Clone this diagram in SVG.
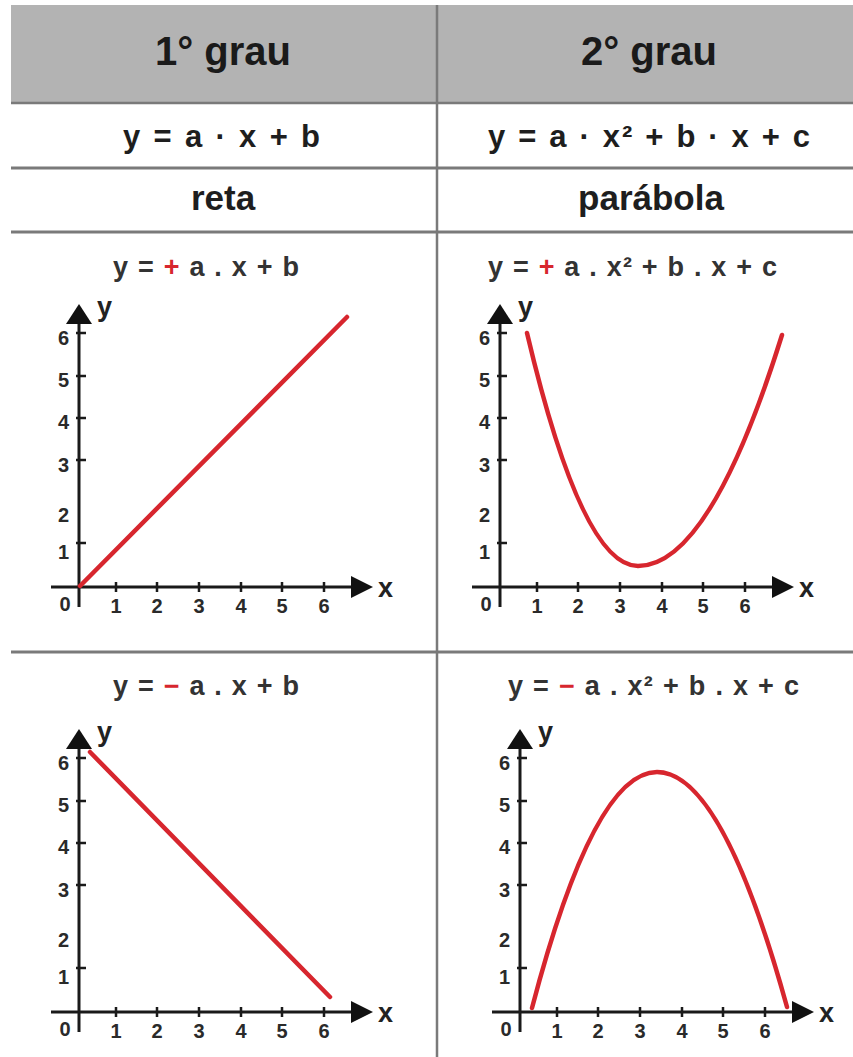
<svg xmlns="http://www.w3.org/2000/svg" width="853" height="1057" viewBox="0 0 853 1057">
<style>
  text { font-family: "Liberation Sans", Arial, sans-serif; font-weight: bold; }
  .title { font-size: 40px; fill: #1a1a1a; text-anchor: middle; }
  .form { font-size: 31px; fill: #1e1e1e; }
  .name { font-size: 35px; fill: #1e1e1e; text-anchor: middle; }
  .gform { font-size: 27px; fill: #333333; }
  .red { fill: #d7262e; }
  .tly { font-size: 20px; fill: #2a2a2a; text-anchor: end; }
  .tlx { font-size: 20px; fill: #2a2a2a; text-anchor: middle; }
  .axl { font-size: 27px; fill: #222222; }
  .ax { stroke: #1a1a1a; stroke-width: 3; fill: none; }
  .tick { stroke: #1a1a1a; stroke-width: 2.5; }
  .arr { fill: #111111; }
  .curve { stroke: #d7262e; stroke-width: 4.5; fill: none; stroke-linecap: round; }
  .grid { stroke: #7a7a7a; fill: none; }
</style>
<rect width="853" height="1057" fill="#ffffff"/>

<g id="table">
  <rect x="11" y="5" width="842" height="98" fill="#b3b3b3"/>
  <line class="grid" x1="11" y1="103" x2="853" y2="103" stroke-width="2.5" stroke="#6e6e6e"/>
  <line class="grid" x1="11" y1="168" x2="853" y2="168" stroke-width="3"/>
  <line class="grid" x1="11" y1="232" x2="853" y2="232" stroke-width="3"/>
  <line class="grid" x1="11" y1="652" x2="853" y2="652" stroke-width="3" stroke="#aaaaaa"/>
  <line class="grid" x1="437" y1="5" x2="437" y2="1057" stroke-width="2.5" stroke="#777777"/>
</g>

<g id="header-1">
  <text class="title" x="223" y="65">1° grau</text>
</g>
<g id="header-2">
  <text class="title" x="649" y="65">2° grau</text>
</g>

<g id="formula-1">
  <text class="form" x="123" y="147" textLength="197" lengthAdjust="spacing">y = a · x + b</text>
</g>
<g id="formula-2">
  <text class="form" x="488" y="147" textLength="322" lengthAdjust="spacing">y = a · x² + b · x + c</text>
</g>

<g id="name-1">
  <text class="name" x="223" y="210">reta</text>
</g>
<g id="name-2">
  <text class="name" x="651" y="210">parábola</text>
</g>

<!-- Top-left graph -->
<g id="graph-line-pos">
  <text class="gform" x="113" y="276" textLength="186" lengthAdjust="spacing">y = <tspan class="red">+</tspan> a . x + b</text>
  <g transform="translate(79,587)">
    <line class="ax" x1="0" y1="20" x2="0" y2="-266"/>
    <line class="ax" x1="-28" y1="0" x2="274" y2="0"/>
    <polygon class="arr" points="0,-283 -13,-263 13,-263"/>
    <polygon class="arr" points="294,0 272,-11 272,11"/>
    <path class="tick" d="M-3,-254H7M-3,-211H7M-3,-169H7M-3,-127H7M-3,-44H7"/>
    <path class="tick" d="M37,-5V5M78,-5V5M120,-5V5M162,-5V5M203,-5V5M245,-5V5"/>
    <text class="tly" x="-10" y="-242">6</text>
    <text class="tly" x="-10" y="-200">5</text>
    <text class="tly" x="-10" y="-158">4</text>
    <text class="tly" x="-10" y="-115">3</text>
    <text class="tly" x="-10" y="-65">2</text>
    <text class="tly" x="-10" y="-28">1</text>
    <text class="tlx" x="-14" y="24">0</text>
    <text class="tlx" x="37" y="26">1</text>
    <text class="tlx" x="78" y="26">2</text>
    <text class="tlx" x="120" y="26">3</text>
    <text class="tlx" x="162" y="26">4</text>
    <text class="tlx" x="203" y="26">5</text>
    <text class="tlx" x="245" y="26">6</text>
    <text class="axl" x="299" y="10">x</text>
    <text class="axl" x="18" y="-271">y</text>
    <line class="curve" x1="1" y1="-1" x2="268" y2="-270"/>
  </g>
</g>

<!-- Top-right graph -->
<g id="graph-parabola-pos">
  <text class="gform" x="488" y="276" textLength="289" lengthAdjust="spacing">y = <tspan class="red">+</tspan> a . x² + b . x + c</text>
  <g transform="translate(500,587)">
    <line class="ax" x1="0" y1="20" x2="0" y2="-266"/>
    <line class="ax" x1="-28" y1="0" x2="274" y2="0"/>
    <polygon class="arr" points="0,-283 -13,-263 13,-263"/>
    <polygon class="arr" points="294,0 272,-11 272,11"/>
    <path class="tick" d="M-3,-254H7M-3,-211H7M-3,-169H7M-3,-127H7M-3,-44H7"/>
    <path class="tick" d="M37,-5V5M78,-5V5M120,-5V5M162,-5V5M203,-5V5M245,-5V5"/>
    <text class="tly" x="-10" y="-242">6</text>
    <text class="tly" x="-10" y="-200">5</text>
    <text class="tly" x="-10" y="-158">4</text>
    <text class="tly" x="-10" y="-115">3</text>
    <text class="tly" x="-10" y="-65">2</text>
    <text class="tly" x="-10" y="-28">1</text>
    <text class="tlx" x="-14" y="24">0</text>
    <text class="tlx" x="37" y="26">1</text>
    <text class="tlx" x="78" y="26">2</text>
    <text class="tlx" x="120" y="26">3</text>
    <text class="tlx" x="162" y="26">4</text>
    <text class="tlx" x="203" y="26">5</text>
    <text class="tlx" x="245" y="26">6</text>
    <text class="axl" x="299" y="10">x</text>
    <text class="axl" x="18" y="-271">y</text>
    <path class="curve" d="M27,-254 Q82,-21 138,-21 Q210,-21 282,-252"/>
  </g>
</g>

<!-- Bottom-left graph -->
<g id="graph-line-neg">
  <text class="gform" x="113" y="695" textLength="186" lengthAdjust="spacing">y = <tspan class="red">−</tspan> a . x + b</text>
  <g transform="translate(79,1012)">
    <line class="ax" x1="0" y1="20" x2="0" y2="-266"/>
    <line class="ax" x1="-28" y1="0" x2="274" y2="0"/>
    <polygon class="arr" points="0,-283 -13,-263 13,-263"/>
    <polygon class="arr" points="294,0 272,-11 272,11"/>
    <path class="tick" d="M-3,-254H7M-3,-211H7M-3,-169H7M-3,-127H7M-3,-44H7"/>
    <path class="tick" d="M37,-5V5M78,-5V5M120,-5V5M162,-5V5M203,-5V5M245,-5V5"/>
    <text class="tly" x="-10" y="-242">6</text>
    <text class="tly" x="-10" y="-200">5</text>
    <text class="tly" x="-10" y="-158">4</text>
    <text class="tly" x="-10" y="-115">3</text>
    <text class="tly" x="-10" y="-65">2</text>
    <text class="tly" x="-10" y="-28">1</text>
    <text class="tlx" x="-14" y="24">0</text>
    <text class="tlx" x="37" y="26">1</text>
    <text class="tlx" x="78" y="26">2</text>
    <text class="tlx" x="120" y="26">3</text>
    <text class="tlx" x="162" y="26">4</text>
    <text class="tlx" x="203" y="26">5</text>
    <text class="tlx" x="245" y="26">6</text>
    <text class="axl" x="299" y="10">x</text>
    <text class="axl" x="18" y="-271">y</text>
    <line class="curve" x1="11" y1="-260" x2="251" y2="-15"/>
  </g>
</g>

<!-- Bottom-right graph -->
<g id="graph-parabola-neg">
  <text class="gform" x="508" y="695" textLength="291" lengthAdjust="spacing">y = <tspan class="red">−</tspan> a . x² + b . x + c</text>
  <g transform="translate(520,1012)">
    <line class="ax" x1="0" y1="20" x2="0" y2="-266"/>
    <line class="ax" x1="-28" y1="0" x2="274" y2="0"/>
    <polygon class="arr" points="0,-283 -13,-263 13,-263"/>
    <polygon class="arr" points="294,0 272,-11 272,11"/>
    <path class="tick" d="M-3,-254H7M-3,-211H7M-3,-169H7M-3,-127H7M-3,-44H7"/>
    <path class="tick" d="M37,-5V5M78,-5V5M120,-5V5M162,-5V5M203,-5V5M245,-5V5"/>
    <text class="tly" x="-10" y="-242">6</text>
    <text class="tly" x="-10" y="-200">5</text>
    <text class="tly" x="-10" y="-158">4</text>
    <text class="tly" x="-10" y="-115">3</text>
    <text class="tly" x="-10" y="-65">2</text>
    <text class="tly" x="-10" y="-28">1</text>
    <text class="tlx" x="-14" y="24">0</text>
    <text class="tlx" x="37" y="26">1</text>
    <text class="tlx" x="78" y="26">2</text>
    <text class="tlx" x="120" y="26">3</text>
    <text class="tlx" x="162" y="26">4</text>
    <text class="tlx" x="203" y="26">5</text>
    <text class="tlx" x="245" y="26">6</text>
    <text class="axl" x="299" y="10">x</text>
    <text class="axl" x="18" y="-271">y</text>
    <path class="curve" d="M12,-4 Q74,-240 137,-240 Q202,-240 267,-5"/>
  </g>
</g>
</svg>
